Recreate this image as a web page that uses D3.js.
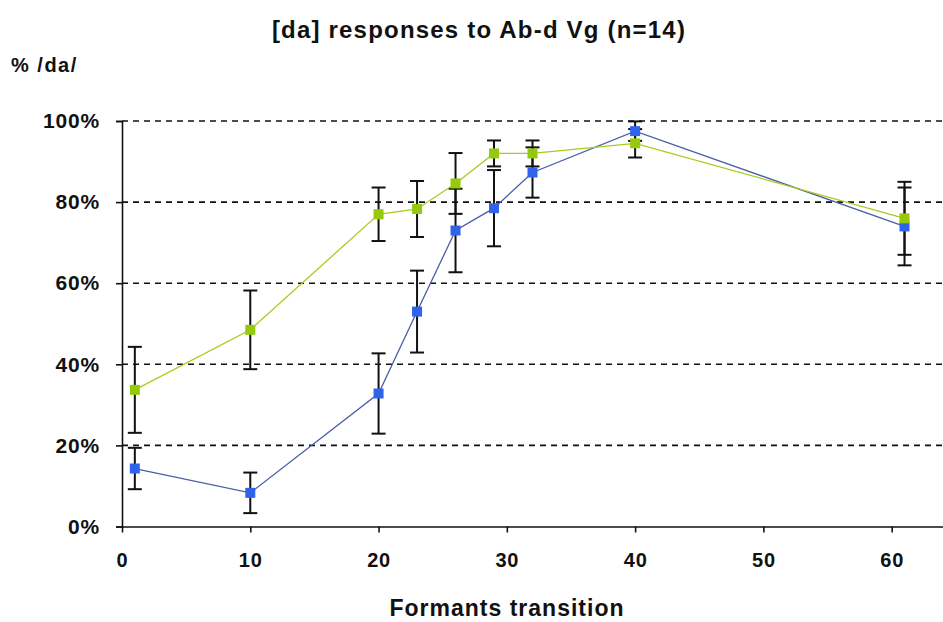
<!DOCTYPE html>
<html>
<head>
<meta charset="utf-8">
<script src="https://cdn.jsdelivr.net/npm/d3@7/dist/d3.min.js"></script>
<style>
  html, body { margin: 0; padding: 0; background: #ffffff; }
  svg { display: block; }
  text { font-family: "Liberation Sans", Arial, sans-serif; font-weight: bold; fill: #111; }
</style>
</head>
<body>
<svg id="chart" width="943" height="622"></svg>
<script>
// Formant transition steps (x) and % /da/ responses per condition
const transitions = [1, 10, 20, 23, 26, 29, 32, 40, 61];
const blueValues  = [14.3, 8.3, 32.8, 53.0, 73.0, 78.5, 87.3, 97.5, 74.0];
const blueErrors  = [5.1, 5.0, 9.9, 10.1, 10.3, 9.4, 6.2, 2.4, 9.6];
const greenValues = [33.7, 48.5, 77.0, 78.3, 84.6, 92.0, 92.0, 94.5, 76.0];
const greenErrors = [10.6, 9.7, 6.6, 6.9, 7.5, 3.2, 3.2, 3.5, 9.0];
const yTicks = [0, 20, 40, 60, 80, 100];
const xTicks = [0, 10, 20, 30, 40, 50, 60];

const titleText = "[da] responses to Ab-d Vg (n=14)";
const yTitle = "% /da/";
const xTitle = "Formants transition";

const svg = d3.select("#chart");

const x = d3.scaleLinear().domain([0, 64]).range([122, 943]);
const y = d3.scaleLinear().domain([0, 100]).range([526.5, 121]);

const labelStyle = sel => sel
  .style("font-family", "'Liberation Sans', Arial, sans-serif")
  .style("font-weight", "bold")
  .style("font-size", "20px")
  .style("letter-spacing", "0.8px")
  .attr("fill", "#111");

// dashed horizontal gridlines
svg.append("g")
  .selectAll("line")
  .data(yTicks.filter(d => d > 0))
  .join("line")
  .attr("x1", x(0)).attr("x2", 943)
  .attr("y1", d => y(d)).attr("y2", d => y(d))
  .attr("stroke", "#111")
  .attr("stroke-width", 1.6)
  .attr("stroke-dasharray", "6,5");

// y axis
const yAxis = svg.append("g")
  .attr("transform", `translate(${x(0)},0)`)
  .call(d3.axisLeft(y).tickValues(yTicks).tickFormat(d => d + "%").tickSize(6).tickPadding(16));
yAxis.select(".domain").attr("stroke", "#111").attr("stroke-width", 1.6);
yAxis.selectAll(".tick line").attr("stroke", "#111").attr("stroke-width", 1.6);
yAxis.selectAll("text").call(labelStyle).style("font-size", "21px");

// x axis
const xAxis = svg.append("g")
  .attr("transform", `translate(0,${y(0)})`)
  .call(d3.axisBottom(x).tickValues(xTicks).tickSize(6).tickSizeOuter(0).tickPadding(20));
xAxis.select(".domain").attr("stroke", "#111").attr("stroke-width", 1.6);
xAxis.selectAll(".tick line").attr("stroke", "#111").attr("stroke-width", 1.6);
xAxis.selectAll("text").call(labelStyle);

const series = [
  { values: blueValues,  errors: blueErrors,  line: "#4a5ea6", fill: "#2f63ea" },
  { values: greenValues, errors: greenErrors, line: "#a9cc1c", fill: "#96c90c" }
];

// error bars
const capHalf = 7;
series.forEach(s => {
  const g = svg.append("g").attr("stroke", "#111").attr("stroke-width", 2);
  transitions.forEach((t, i) => {
    const lo = s.values[i] - s.errors[i];
    const hi = s.values[i] + s.errors[i];
    g.append("line").attr("x1", x(t)).attr("x2", x(t)).attr("y1", y(hi)).attr("y2", y(lo));
    g.append("line").attr("x1", x(t) - capHalf).attr("x2", x(t) + capHalf).attr("y1", y(hi)).attr("y2", y(hi));
    g.append("line").attr("x1", x(t) - capHalf).attr("x2", x(t) + capHalf).attr("y1", y(lo)).attr("y2", y(lo));
  });
});

// lines and square markers
const line = d3.line().x(d => x(d[0])).y(d => y(d[1]));
series.forEach(s => {
  const pts = transitions.map((t, i) => [t, s.values[i]]);
  svg.append("path")
    .datum(pts)
    .attr("d", line)
    .attr("fill", "none")
    .attr("stroke", s.line)
    .attr("stroke-width", 1.3);
  svg.append("g")
    .selectAll("rect")
    .data(pts)
    .join("rect")
    .attr("x", d => x(d[0]) - 5)
    .attr("y", d => y(d[1]) - 5)
    .attr("width", 10)
    .attr("height", 10)
    .attr("fill", s.fill);
});

// titles
svg.append("text")
  .attr("x", 479).attr("y", 38)
  .attr("text-anchor", "middle")
  .style("font-size", "24px")
  .style("letter-spacing", "1.2px")
  .text(titleText);

svg.append("text")
  .attr("x", 11).attr("y", 72)
  .style("font-size", "20px")
  .style("letter-spacing", "1.5px")
  .text(yTitle);

svg.append("text")
  .attr("x", 507).attr("y", 616)
  .attr("text-anchor", "middle")
  .style("font-size", "23px")
  .style("letter-spacing", "1px")
  .text(xTitle);
</script>
</body>
</html>
